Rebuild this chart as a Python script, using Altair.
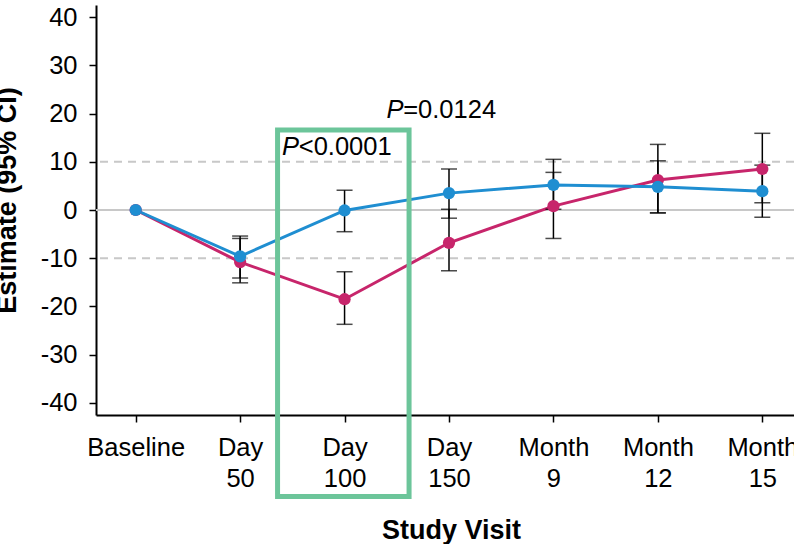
import altair as alt
import pandas as pd

# ---- data ----
visits = ["Baseline", "Day 50", "Day 100", "Day 150", "Month 9", "Month 12", "Month 15"]

arm1_name = "Arm 1"  # blue
arm1_est = [0.0, -9.6, -0.1, 3.5, 5.2, 4.8, 3.9]
arm1_lo = [None, -14.1, -4.5, -1.7, 0.15, -0.6, -1.5]
arm1_hi = [None, -5.4, 4.1, 8.5, 10.5, 10.2, 9.3]

arm2_name = "Arm 2"  # magenta
arm2_est = [0.0, -10.8, -18.5, -6.8, 0.8, 6.2, 8.5]
arm2_lo = [None, -15.1, -23.7, -12.6, -5.9, -0.6, 1.5]
arm2_hi = [None, -5.9, -12.8, 0.15, 7.8, 13.6, 15.9]

y_ticks = [-40, -30, -20, -10, 0, 10, 20, 30, 40]
ref_dashed = [-10, 10]
ref_solid = [0]

ann_visit = ["Day 100", "Day 150"]
ann_y = [11.4, 19.0]
ann_rest = ["<0.0001", "=0.0124"]

box_visit = ["Day 100"]
box_top = [16.6]
box_bottom = [-59.4]

BLUE = "#1f8ed1"
MAGENTA = "#c7256b"
GREEN = "#6cc59a"
FONT = "Liberation Sans"

rows = []
for name, est, lo, hi in [(arm2_name, arm2_est, arm2_lo, arm2_hi),
                          (arm1_name, arm1_est, arm1_lo, arm1_hi)]:
    for v, e, l, h in zip(visits, est, lo, hi):
        rows.append({"visit": v, "arm": name, "est": e, "lo": l, "hi": h})
df = pd.DataFrame(rows)
ci = df.dropna(subset=["lo", "hi"])

x_scale = alt.Scale(domain=visits, type="point", range=[0, 706], padding=0.38)
y_scale = alt.Scale(domain=[-42.5, 42.5], nice=False, zero=False)
color_scale = alt.Scale(domain=[arm1_name, arm2_name], range=[BLUE, MAGENTA])

x_axis = alt.Axis(
    title="Study Visit", labelExpr="split(datum.label, ' ')", labelAngle=0,
    labelFontSize=25.5, labelLineHeight=31, labelBaseline="top", labelPadding=13,
    labelColor="black", labelOverlap=False,
    tickSize=7, tickWidth=1.5, tickColor="black", domainColor="black", domainWidth=2,
    titleFontSize=27, titleFontWeight="bold", titleColor="black",
    titleX=355, titleY=123, titleBaseline="alphabetic", titleAlign="center",
)
y_axis = alt.Axis(
    title="Estimate (95% CI)", values=y_ticks, labelExpr="'' + datum.value",
    labelFontSize=25.5, labelPadding=12, labelColor="black",
    tickSize=7, tickWidth=1.5, tickColor="black", domainColor="black", domainWidth=2,
    grid=False,
    titleFontSize=27, titleFontWeight="bold", titleColor="black",
    titleX=-81, titleY=195, titleAngle=270, titleBaseline="alphabetic", titleAlign="center",
)

base = alt.Chart(df)

axes_layer = base.mark_point(opacity=0).encode(
    x=alt.X("visit:N", scale=x_scale, axis=x_axis, sort=visits),
    y=alt.Y("est:Q", scale=y_scale, axis=y_axis),
)

dashed = alt.Chart(pd.DataFrame({"v": ref_dashed})).mark_rule(
    color="#c8c8c8", strokeWidth=2, strokeDash=[8, 6]
).encode(y=alt.Y("v:Q", scale=y_scale))

solid = alt.Chart(pd.DataFrame({"v": ref_solid})).mark_rule(
    color="#c8c8c8", strokeWidth=2
).encode(y=alt.Y("v:Q", scale=y_scale))

lines = base.mark_line(strokeWidth=3).encode(
    x=alt.X("visit:N", scale=x_scale, sort=visits),
    y=alt.Y("est:Q", scale=y_scale),
    color=alt.Color("arm:N", scale=color_scale, legend=None),
)

ci_base = alt.Chart(ci)
err = ci_base.mark_rule(color="black", strokeWidth=1.5).encode(
    x=alt.X("visit:N", scale=x_scale, sort=visits),
    y=alt.Y("lo:Q", scale=y_scale),
    y2="hi:Q",
)
cap_lo = ci_base.mark_tick(orient="horizontal", size=16, thickness=1.5, color="black").encode(
    x=alt.X("visit:N", scale=x_scale, sort=visits),
    y=alt.Y("lo:Q", scale=y_scale),
)
cap_hi = ci_base.mark_tick(orient="horizontal", size=16, thickness=1.5, color="black").encode(
    x=alt.X("visit:N", scale=x_scale, sort=visits),
    y=alt.Y("hi:Q", scale=y_scale),
)

points = base.mark_circle(size=150, opacity=1).encode(
    x=alt.X("visit:N", scale=x_scale, sort=visits),
    y=alt.Y("est:Q", scale=y_scale),
    color=alt.Color("arm:N", scale=color_scale, legend=None),
)

box = alt.Chart(pd.DataFrame({"visit": box_visit, "top": box_top, "bottom": box_bottom})).mark_rect(
    filled=False, stroke=GREEN, strokeWidth=5, xOffset=-67, x2Offset=64.5
).encode(
    x=alt.X("visit:N", scale=x_scale, sort=visits),
    x2="visit:N",
    y=alt.Y("top:Q", scale=y_scale),
    y2="bottom:Q",
)

ann_df = pd.DataFrame({"visit": ann_visit, "y": ann_y, "rest": ann_rest})
ann_p = alt.Chart(ann_df).mark_text(
    text="P", fontStyle="italic", fontSize=25.5, align="left", baseline="alphabetic",
    dx=-62.5, color="black", font=FONT,
).encode(
    x=alt.X("visit:N", scale=x_scale, sort=visits),
    y=alt.Y("y:Q", scale=y_scale),
)
ann_r = alt.Chart(ann_df).mark_text(
    fontSize=25.5, align="left", baseline="alphabetic", dx=-45.8, color="black", font=FONT,
).encode(
    x=alt.X("visit:N", scale=x_scale, sort=visits),
    y=alt.Y("y:Q", scale=y_scale),
    text="rest:N",
)

chart = alt.layer(
    axes_layer, dashed, solid, lines, err, cap_lo, cap_hi, points, box, ann_p, ann_r
).properties(
    width=698, height=410,
    autosize=alt.AutoSizeParams(type="none"),
    padding={"left": 96, "top": 5, "right": 0, "bottom": 129},
    background="white",
).configure(font=FONT).configure_view(stroke=None)

chart.save("out.html", embed_options={"renderer": "svg", "actions": False})
